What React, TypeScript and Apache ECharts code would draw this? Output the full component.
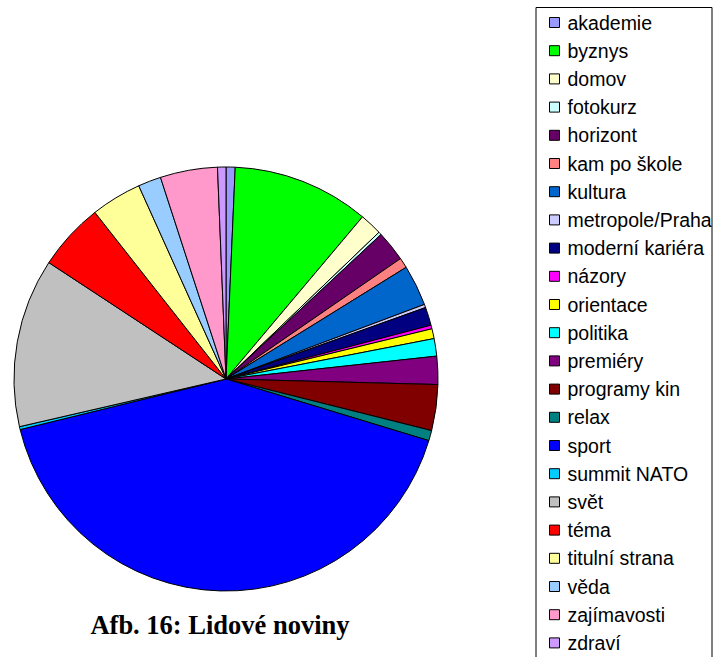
import React, { useEffect, useRef } from "react";
import * as echarts from "echarts";

const categories = [
  "akademie", "byznys", "domov", "fotokurz", "horizont", "kam po škole", "kultura",
  "metropole/Praha", "moderní kariéra", "názory", "orientace", "politika", "premiéry",
  "programy kin", "relax", "sport", "summit NATO", "svět", "téma", "titulní strana",
  "věda", "zajímavosti", "zdraví",
];
const values = [
  2.5, 37.6, 6.1, 0.8, 8.4, 2.8, 11.2, 0.9, 5.0, 1.0, 2.7, 4.8, 7.7, 12.6, 2.8,
  149.3, 0.8, 46.3, 18.5, 13.9, 6.3, 15.7, 2.3,
];
const colors = [
  "#9999FF", "#00FF00", "#FFFFCC", "#CCFFFF", "#660066", "#FF8080", "#0066CC",
  "#CCCCFF", "#000080", "#FF00FF", "#FFFF00", "#00FFFF", "#800080", "#800000",
  "#008080", "#0000FF", "#00CCFF", "#C0C0C0", "#FF0000", "#FFFF99", "#99CCFF",
  "#FF99CC", "#CC99FF",
];
const title = "Afb. 16: Lidové noviny";

export default function App() {
  const ref = useRef<HTMLDivElement>(null);
  useEffect(() => {
    if (!ref.current) return;
    const chart = echarts.init(ref.current, null, { renderer: "svg" });
    chart.setOption({
      animation: false,
      backgroundColor: "#ffffff",
      title: {
        text: title,
        left: 215,
        textAlign: "center",
        top: 606,
        textStyle: {
          fontFamily: "Liberation Serif",
          fontWeight: "bold",
          fontSize: 26.5,
          color: "#000",
        },
      },
      legend: {
        orient: "vertical",
        left: 549,
        top: 12.5,
        height: 700,
        padding: 0,
        itemWidth: 10,
        itemHeight: 10,
        itemGap: 8.2,
        icon: "rect",
        selectedMode: false,
        data: categories,
        itemStyle: { borderColor: "#000", borderWidth: 1 },
        textStyle: {
          fontFamily: "Liberation Sans",
          fontSize: 19.5,
          color: "#000",
          padding: [0, 0, 0, 3],
        },
      },
      graphic: [
        {
          type: "rect",
          shape: { x: 536, y: 7.5, width: 176, height: 660 },
          style: { fill: "none", stroke: "#000", lineWidth: 1 },
          silent: true,
        },
      ],
      series: [
        {
          type: "pie",
          center: [226, 379],
          radius: 212,
          startAngle: 90,
          clockwise: true,
          label: { show: false },
          labelLine: { show: false },
          emphasis: { disabled: true },
          itemStyle: { borderColor: "#000", borderWidth: 1 },
          data: categories.map((name, i) => ({
            name,
            value: values[i],
            itemStyle: { color: colors[i] },
          })),
        },
      ],
    });
    return () => chart.dispose();
  }, []);
  return (
    <div
      ref={ref}
      style={{ position: "fixed", left: 0, top: 0, width: 723, height: 657 }}
    />
  );
}
